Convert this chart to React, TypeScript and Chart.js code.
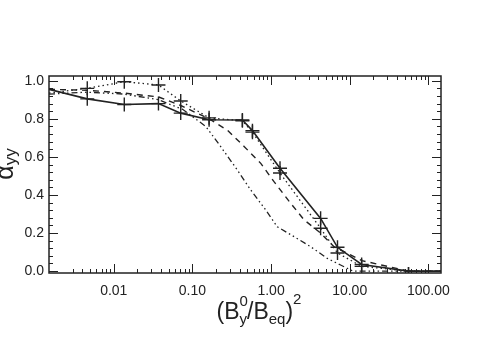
import React, { useEffect, useRef } from "react";
import { Chart, registerables } from "chart.js";

Chart.register(...registerables);

// ---- data ----
const xMarked = [0.0015, 0.0046, 0.0136, 0.037, 0.071, 0.163, 0.432, 0.58, 1.3, 4.27, 7.0, 14.2, 56, 145];
const ySolid = [0.955, 0.905, 0.875, 0.88, 0.83, 0.795, 0.794, 0.738, 0.54, 0.277, 0.125, 0.035, 0.0, 0.0];
const yDotted = [0.935, 0.96, 0.995, 0.978, 0.894, 0.805, 0.79, 0.73, 0.515, 0.225, 0.095, 0.025, 0.0, 0.0];

const xDashed = [0.0015, 0.0046, 0.0136, 0.037, 0.071, 0.163, 0.279, 0.454, 0.74, 1.09, 1.78, 2.62, 4.27, 6.31, 14.3, 56, 145];
const yDashed = [0.955, 0.95, 0.935, 0.915, 0.87, 0.8, 0.74, 0.655, 0.566, 0.47, 0.356, 0.27, 0.2, 0.128, 0.055, 0.0, 0.0];

const xDashDot = [0.0015, 0.0046, 0.0136, 0.037, 0.075, 0.148, 0.229, 0.373, 0.552, 0.856, 1.2, 1.96, 3.19, 5.19, 7.66, 11, 145];
const yDashDot = [0.93, 0.94, 0.93, 0.9, 0.85, 0.76, 0.654, 0.531, 0.426, 0.321, 0.233, 0.181, 0.128, 0.067, 0.032, 0.0, 0.0];

const yMajorTicks = [0, 0.2, 0.4, 0.6, 0.8, 1.0];
const yMinorStep = 0.04;

const X_MIN = 0.0015;
const X_MAX = 145;
const Y_MIN = -0.01;
const Y_MAX = 1.025;

const INK = "#222222";
const FONT = "'Liberation Sans', Arial, Helvetica, sans-serif";

const toPts = (xs: number[], ys: number[]) => xs.map((x, i) => ({ x, y: ys[i] }));

const isDecade = (v: number) => {
  const l = Math.log10(v);
  return Math.abs(l - Math.round(l)) < 1e-9;
};
const isNiceLog = (v: number) => {
  const p = Math.pow(10, Math.floor(Math.log10(v) + 1e-9));
  const s = v / p;
  return Math.abs(s - Math.round(s)) < 1e-6;
};

const framePlugin = {
  id: "frame",
  afterDraw(chart: any) {
    const { ctx, chartArea: a, scales } = chart;
    const xs = scales.x;
    const ys = scales.y;
    ctx.save();
    ctx.strokeStyle = INK;
    ctx.lineWidth = 1.5;
    ctx.strokeRect(a.left, a.top, a.right - a.left, a.bottom - a.top);
    ctx.lineWidth = 1;
    ctx.beginPath();
    // x ticks (inward, bottom and top)
    for (const t of xs.ticks) {
      if (!isNiceLog(t.value)) continue;
      const px = Math.round(xs.getPixelForValue(t.value)) + 0.5;
      if (px <= a.left + 1 || px >= a.right - 1) continue;
      const len = isDecade(t.value) ? 9 : 4;
      ctx.moveTo(px, a.bottom);
      ctx.lineTo(px, a.bottom - len);
      ctx.moveTo(px, a.top);
      ctx.lineTo(px, a.top + len);
    }
    // y ticks (inward, left and right)
    const n = Math.round(1 / yMinorStep);
    for (let k = 0; k <= n; k++) {
      const v = k * yMinorStep;
      const major = yMajorTicks.some((m) => Math.abs(m - v) < 1e-9);
      const py = Math.round(ys.getPixelForValue(v)) + 0.5;
      const len = major ? 9 : 4;
      ctx.moveTo(a.left, py);
      ctx.lineTo(a.left + len, py);
      ctx.moveTo(a.right, py);
      ctx.lineTo(a.right - len, py);
    }
    ctx.stroke();

    // x axis title: (B_y^0 / B_eq)^2
    ctx.fillStyle = INK;
    ctx.textBaseline = "alphabetic";
    const big = 23;
    const small = 15;
    const base = 319;
    const parts: [string, number, number][] = [
      ["(B", big, 0],
      ["y", small, 5],
      ["/B", big, 0],
      ["eq", small, 5],
      [")", big, 0],
      ["2", small, -15],
    ];
    let w = 0;
    const widths: number[] = [];
    for (const [s, f] of parts) {
      ctx.font = `${f}px ${FONT}`;
      const ww = ctx.measureText(s).width;
      widths.push(ww);
      w += ww;
    }
    let x = 259 - w / 2;
    parts.forEach(([s, f, dy], i) => {
      ctx.font = `${f}px ${FONT}`;
      ctx.fillText(s, x, base + dy);
      if (i === 1) ctx.fillText("0", x, base - 13);
      x += widths[i];
    });

    // y axis title: alpha_yy rotated
    ctx.save();
    ctx.translate(13, 164);
    ctx.rotate(-Math.PI / 2);
    const ab = 25;
    const as = 17;
    ctx.font = `${ab}px ${FONT}`;
    const aw = ctx.measureText("α").width;
    ctx.font = `${as}px ${FONT}`;
    const sw = ctx.measureText("yy").width;
    const tot = aw + sw;
    ctx.font = `${ab}px ${FONT}`;
    ctx.fillText("α", -tot / 2, 0);
    ctx.font = `${as}px ${FONT}`;
    ctx.fillText("yy", -tot / 2 + aw, 3);
    ctx.restore();
    ctx.restore();
  },
};

export default function App() {
  const ref = useRef<HTMLCanvasElement | null>(null);
  useEffect(() => {
    if (!ref.current) return;
    const markerRadius = (last: number) => (c: any) =>
      c.dataIndex === 0 || c.dataIndex === last ? 0 : c.dataIndex === last - 1 ? 4 : 7;
    const chart = new Chart(ref.current, {
      type: "line",
      data: {
        datasets: [
          {
            label: "solid",
            data: toPts(xMarked, ySolid),
            borderColor: INK,
            borderWidth: 1.6,
            pointStyle: "cross",
            pointRadius: markerRadius(xMarked.length - 1),
            pointBorderColor: INK,
            pointBorderWidth: 1.4,
            tension: 0,
          },
          {
            label: "dotted",
            data: toPts(xMarked, yDotted),
            borderColor: INK,
            borderWidth: 1.3,
            borderDash: [1.5, 3],
            pointStyle: "cross",
            pointRadius: markerRadius(xMarked.length - 1),
            pointBorderColor: INK,
            pointBorderWidth: 1.4,
            tension: 0,
          },
          {
            label: "dashed",
            data: toPts(xDashed, yDashed),
            borderColor: INK,
            borderWidth: 1.4,
            borderDash: [6, 5],
            pointRadius: 0,
            tension: 0,
          },
          {
            label: "dashdot",
            data: toPts(xDashDot, yDashDot),
            borderColor: INK,
            borderWidth: 1.3,
            borderDash: [6, 3, 1.5, 3, 1.5, 3, 1.5, 3],
            pointRadius: 0,
            tension: 0,
          },
        ],
      },
      options: {
        animation: false,
        responsive: true,
        maintainAspectRatio: false,
        layout: { padding: { left: 0, right: 50, top: 76, bottom: 0 } },
        plugins: { legend: { display: false }, tooltip: { enabled: false } },
        scales: {
          x: {
            type: "logarithmic",
            min: X_MIN,
            max: X_MAX,
            grid: { display: false, drawTicks: false },
            border: { display: false },
            afterFit: (s: any) => {
              s.height = 78;
            },
            ticks: {
              autoSkip: false,
              maxRotation: 0,
              minRotation: 0,
              padding: 10,
              color: INK,
              font: { family: FONT, size: 14 },
              callback: (v: any) => (isDecade(Number(v)) ? Number(v).toFixed(2) : ""),
            },
          },
          y: {
            type: "linear",
            min: Y_MIN,
            max: Y_MAX,
            grid: { display: false, drawTicks: false },
            border: { display: false },
            afterFit: (s: any) => {
              s.width = 49;
            },
            ticks: {
              includeBounds: false,
              stepSize: 0.2,
              padding: 5,
              color: INK,
              font: { family: FONT, size: 14 },
              callback: (v: any) => Number(v).toFixed(1),
            },
          },
        },
      },
      plugins: [framePlugin],
    } as any);
    return () => chart.destroy();
  }, []);
  return (
    <div style={{ position: "absolute", left: 0, top: 0, width: 491, height: 351, background: "#fff" }}>
      <canvas ref={ref} />
    </div>
  );
}
